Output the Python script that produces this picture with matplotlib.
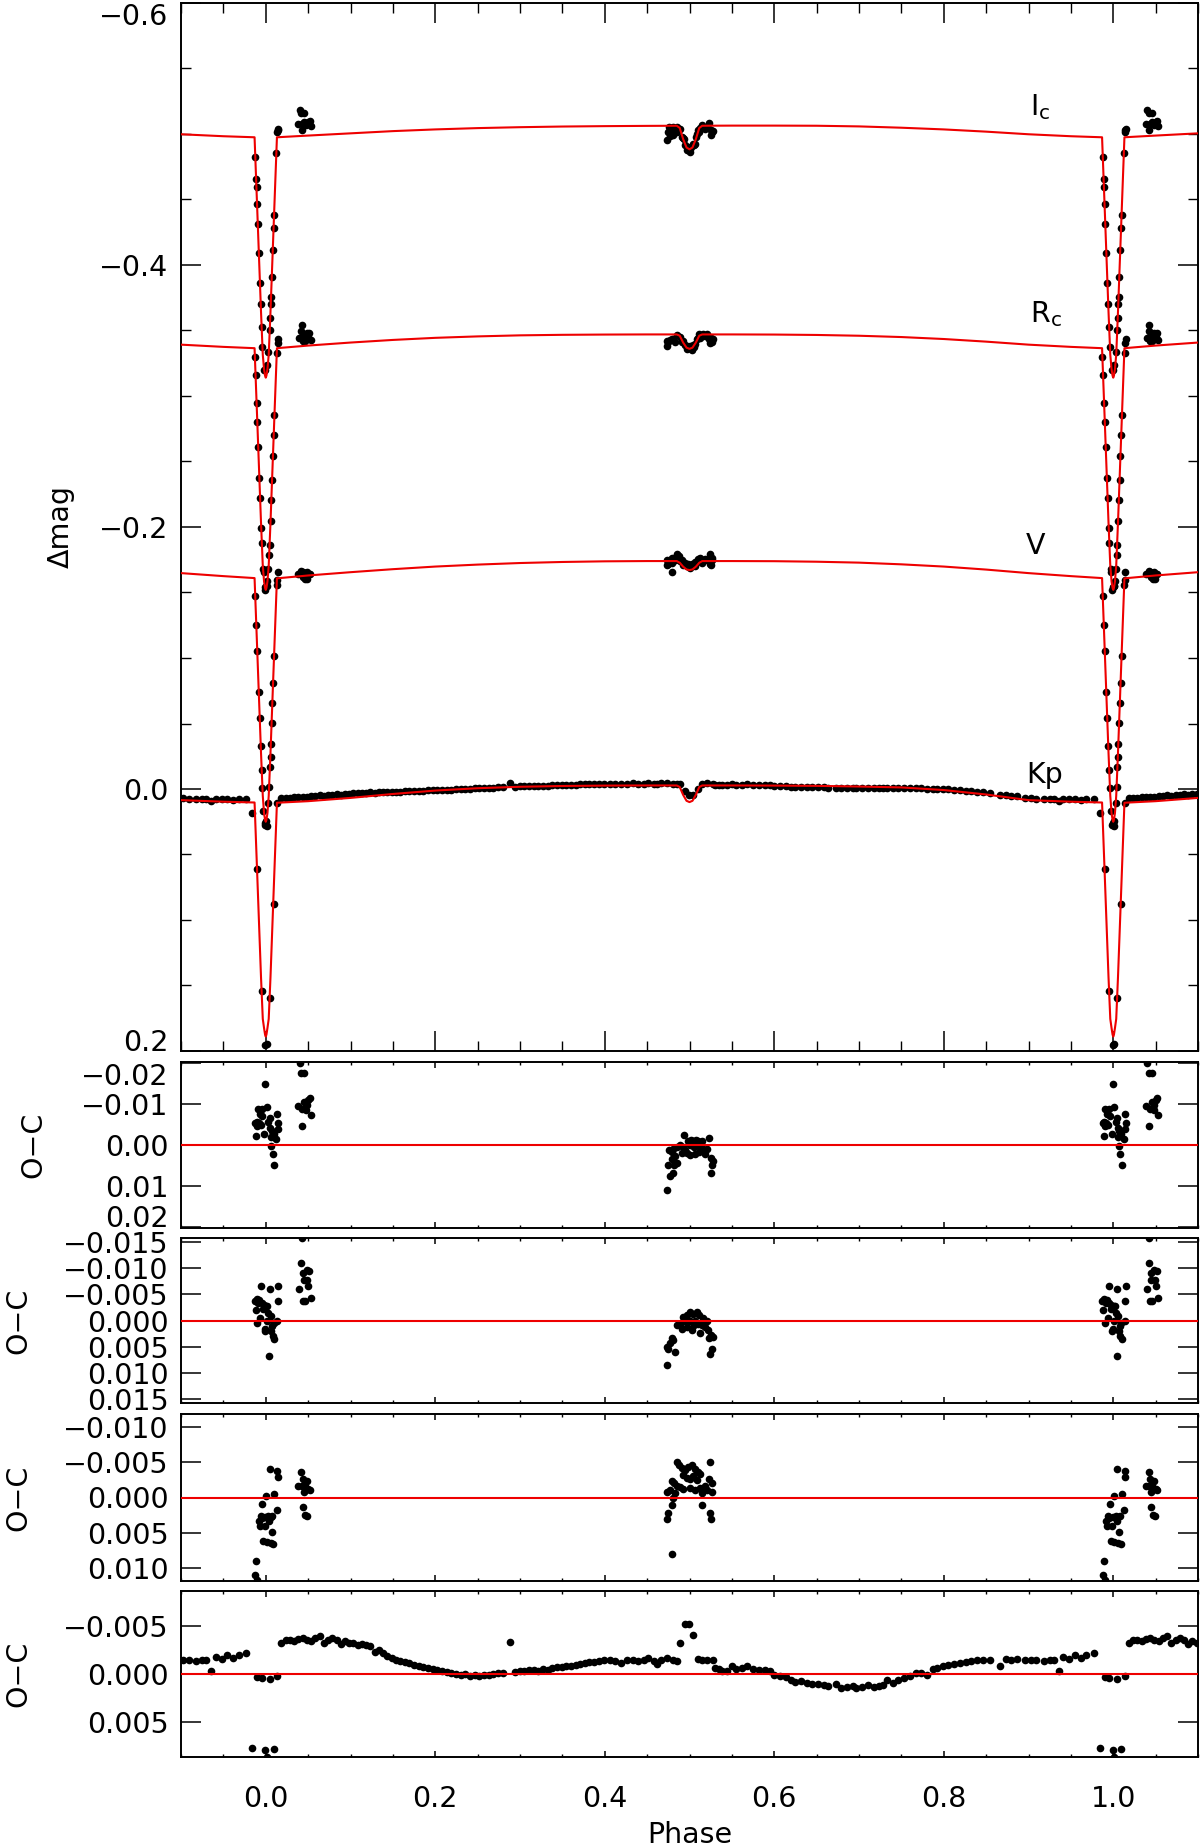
import matplotlib.pyplot as plt
import numpy as np
from matplotlib.ticker import MultipleLocator, FuncFormatter

plt.rcParams['font.family'] = ['DejaVu Sans']
plt.rcParams['font.size'] = 20.5
plt.rcParams['axes.linewidth'] = 1.4

# ---- model light curves (phase 0..1), one magnitude list per band ----
model_phase = [0.0, 0.0008, 0.002, 0.0035, 0.0056, 0.0105, 0.0132, 0.05, 0.1, 0.15,
               0.2, 0.25, 0.3, 0.35, 0.4, 0.45, 0.485, 0.4885, 0.4925, 0.4965,
               0.5, 0.5035, 0.5075, 0.5115, 0.515, 0.55, 0.6, 0.65, 0.7, 0.75,
               0.8, 0.85, 0.9, 0.95, 0.9868, 0.9895, 0.9944, 0.9965, 0.998, 0.9992, 1.0]
ic_model = [-0.314, -0.3155, -0.3205, -0.3315, -0.3645, -0.4505, -0.4975, -0.4988, -0.5005, -0.5022,
            -0.5035, -0.5045, -0.5052, -0.5057, -0.5060, -0.5062, -0.5063, -0.5046, -0.4961, -0.4897,
            -0.4883, -0.4897, -0.4961, -0.5046, -0.5063, -0.5064, -0.5064, -0.5063, -0.5058, -0.5048,
            -0.5035, -0.5018, -0.4998, -0.4983, -0.4975, -0.4505, -0.3645, -0.3315, -0.3205, -0.3155, -0.314]
rc_model = [-0.152, -0.1535, -0.1585, -0.1705, -0.2035, -0.2895, -0.3365, -0.3385, -0.3408, -0.3428,
            -0.3444, -0.3455, -0.3463, -0.3467, -0.3469, -0.3470, -0.3470, -0.3460, -0.3408, -0.3369,
            -0.3360, -0.3369, -0.3408, -0.3460, -0.3470, -0.3470, -0.3469, -0.3466, -0.3460, -0.3450,
            -0.3435, -0.3415, -0.3392, -0.3375, -0.3365, -0.2895, -0.2035, -0.1705, -0.1585, -0.1535, -0.152]
v_model = [0.025, 0.0235, 0.0185, 0.0052, -0.0278, -0.1138, -0.1608, -0.1630, -0.1655, -0.1678,
           -0.1698, -0.1713, -0.1725, -0.1733, -0.1738, -0.1740, -0.1740, -0.1727, -0.1697, -0.1676,
           -0.1671, -0.1676, -0.1697, -0.1727, -0.1740, -0.1740, -0.1739, -0.1735, -0.1728, -0.1715,
           -0.1698, -0.1675, -0.1648, -0.1625, -0.1610, -0.1138, -0.0278, 0.0052, 0.0185, 0.0235, 0.025]
kp_model = [0.189, 0.1875, 0.1825, 0.1755, 0.1435, 0.0575, 0.0105, 0.0093, 0.0068, 0.0038,
            0.0012, -0.0006, -0.0017, -0.0023, -0.0026, -0.0027, -0.0027, -0.0015, 0.0045, 0.0090,
            0.0100, 0.0090, 0.0045, -0.0015, -0.0027, -0.0027, -0.0026, -0.0024, -0.0019, -0.0012,
            0.0008, 0.0042, 0.0085, 0.0097, 0.0103, 0.0575, 0.1435, 0.1755, 0.1825, 0.1875, 0.189]

# ---- Ic observations: phase, magnitude, O-C ----
ic_phase = [0.98765, 0.98863, 0.9893, 0.98971, 0.99058, 0.99186, 0.99314, 0.99407, 0.99514, 0.99611,
            0.9983, 0.9995, 0.0012, 0.0030, 0.0047, 0.00527, 0.0058, 0.00625, 0.00709, 0.00829,
            0.00923, 0.00981, 0.0125, 0.0137, 0.0142, 0.0148,
            0.0384, 0.0400, 0.0420, 0.0452, 0.0428, 0.0475, 0.0502, 0.0522, 0.0483, 0.0530, 0.0424, 0.0456,
            0.4939, 0.4986, 0.5014, 0.5045, 0.5077, 0.5104, 0.5143, 0.5006, 0.5049, 0.5092,
            0.5124, 0.5163, 0.5202, 0.5234, 0.5250, 0.5273, 0.5261, 0.5254, 0.4762, 0.4790,
            0.4809, 0.4857, 0.4888, 0.4920, 0.4947, 0.4967, 0.4829, 0.4794, 0.4751, 0.4813,
            0.4849, 0.4801, 0.4770, 0.4731, 0.5010, 0.5065, 0.5183, 0.4908, 0.5108]
ic_mag = [-0.4827, -0.4654, -0.4595, -0.4466, -0.4313, -0.4089, -0.3865, -0.3702, -0.3529, -0.3376,
          -0.3202, -0.3200, -0.3240, -0.3335, -0.3504, -0.3593, -0.3699, -0.3758, -0.3906, -0.4115,
          -0.4280, -0.4382, -0.4852, -0.5018, -0.5030, -0.5035,
          -0.5080, -0.5185, -0.5161, -0.5161, -0.5074, -0.5070, -0.5095, -0.5099, -0.5083, -0.5058, -0.5031, -0.5091,
          -0.4963, -0.4900, -0.4902, -0.4922, -0.4978, -0.5034, -0.5069, -0.4885, -0.4913, -0.4997,
          -0.5044, -0.5052, -0.5052, -0.5081, -0.5032, -0.5024, -0.5013, -0.4995, -0.5050, -0.5046,
          -0.5052, -0.5054, -0.5040, -0.4966, -0.4913, -0.4876, -0.5035, -0.5028, -0.5013, -0.5013,
          -0.5019, -0.4995, -0.4988, -0.4953, -0.4863, -0.4923, -0.5041, -0.4977, -0.5014]
ic_oc = [-0.0053, -0.0022, -0.0057, -0.0046, -0.0089, -0.0054, -0.0077, -0.0049, -0.0089, -0.0071,
         -0.0027, -0.0148, -0.0092, -0.0057, -0.0065, -0.0041, -0.0019, 0.0002, -0.0035, 0.0022,
         -0.0028, 0.0050, -0.0014, -0.0076, -0.0038, -0.0054,
         -0.0095, -0.0200, -0.0176, -0.0176, -0.0089, -0.0085, -0.0110, -0.0114, -0.0098, -0.0073, -0.0046, -0.0106,
         -0.0024, -0.0011, -0.0013, -0.0009, -0.0013, -0.0011, -0.0009, 0.0000, 0.0006, 0.0000,
         0.0006, 0.0011, 0.0011, -0.0018, 0.0031, 0.0039, 0.0050, 0.0068, 0.0013, 0.0017,
         0.0011, 0.0006, 0.0000, 0.0006, 0.0013, 0.0020, 0.0028, 0.0035, 0.0050, 0.0050,
         0.0044, 0.0068, 0.0075, 0.0110, 0.0024, 0.0022, 0.0022, 0.0020, 0.0017]

# ---- Rc observations ----
rc_phase = [0.9872, 0.9880, 0.9892, 0.9900, 0.9911, 0.9925, 0.9933, 0.9947, 0.9954, 0.9971,
            0.9975, 0.9991, 0.9992, 0.0003, 0.0011, 0.0015, 0.0030, 0.0040, 0.0045, 0.00567,
            0.00658, 0.00745, 0.0085, 0.00941, 0.0103, 0.0135, 0.0140, 0.0146,
            0.0424, 0.0416, 0.0443, 0.0483, 0.0514, 0.0451, 0.0487, 0.0502, 0.0396, 0.0436, 0.0463, 0.0530,
            0.4920, 0.4967, 0.5006, 0.5045, 0.5085, 0.5116, 0.5163, 0.5202, 0.4947, 0.5010,
            0.5065, 0.5104, 0.5143, 0.4888, 0.4849, 0.4908, 0.4971, 0.5026, 0.5183, 0.5222,
            0.5250, 0.5281, 0.5230, 0.4790, 0.4770, 0.4809, 0.4731, 0.4751, 0.4829, 0.4739,
            0.5261, 0.5242, 0.5124, 0.5049]
rc_mag = [-0.3300, -0.3160, -0.2949, -0.2805, -0.2614, -0.2372, -0.2219, -0.1990, -0.1876, -0.1678,
          -0.1655, -0.1517, -0.1540, -0.1553, -0.1548, -0.1590, -0.1680, -0.1786, -0.1863, -0.2048,
          -0.2206, -0.2359, -0.2542, -0.2702, -0.2855, -0.3326, -0.3402, -0.3433,
          -0.3542, -0.3495, -0.3476, -0.3482, -0.3479, -0.3463, -0.3463, -0.3450, -0.3444, -0.3423, -0.3423, -0.3428,
          -0.3422, -0.3379, -0.3378, -0.3392, -0.3437, -0.3471, -0.3475, -0.3470, -0.3386, -0.3363,
          -0.3398, -0.3440, -0.3460, -0.3450, -0.3462, -0.3413, -0.3355, -0.3349, -0.3458, -0.3452,
          -0.3443, -0.3438, -0.3436, -0.3436, -0.3428, -0.3432, -0.3419, -0.3415, -0.3410, -0.3385,
          -0.3415, -0.3406, -0.3439, -0.3375]
rc_oc = [-0.0037, -0.0020, -0.0040, 0.0004, -0.0034, -0.0039, -0.0005, -0.0065, -0.0034, -0.0021,
         -0.0030, 0.0020, 0.0017, -0.0027, 0.0001, -0.0027, -0.0015, 0.0068, -0.0060, -0.0008,
         0.0020, 0.0011, 0.0030, 0.0004, 0.0036, 0.0001, -0.0037, -0.0065,
         -0.0157, -0.0110, -0.0091, -0.0097, -0.0094, -0.0078, -0.0078, -0.0065, -0.0059, -0.0038, -0.0038, -0.0043,
         -0.0007, -0.0011, -0.0016, -0.0013, -0.0016, -0.0011, -0.0005, 0.0000, 0.0001, 0.0000,
         0.0000, 0.0006, 0.0008, 0.0006, 0.0008, 0.0017, 0.0012, 0.0018, 0.0012, 0.0018,
         0.0027, 0.0032, 0.0034, 0.0034, 0.0042, 0.0038, 0.0051, 0.0055, 0.0060, 0.0085,
         0.0055, 0.0064, 0.0024, 0.0008]

# ---- V observations ----
v_phase = [0.9876, 0.9888, 0.9900, 0.9917, 0.9929, 0.9941, 0.9952, 0.9961, 0.9971, 0.9991,
           0.9995, 0.0003, 0.0011, 0.0028, 0.0039, 0.0049, 0.0058, 0.00598, 0.00687, 0.00775,
           0.00865, 0.00983, 0.0130, 0.0134, 0.0140,
           0.0416, 0.0436, 0.0483, 0.0384, 0.0424, 0.0463, 0.0502, 0.0522, 0.0451, 0.0440, 0.0467, 0.0487,
           0.4849, 0.4880, 0.4908, 0.4947, 0.4986, 0.5026, 0.5065, 0.5104, 0.5124, 0.4920,
           0.4967, 0.5006, 0.5045, 0.5085, 0.4790, 0.4817, 0.4857, 0.4888, 0.4927, 0.5010,
           0.5069, 0.5128, 0.5183, 0.5242, 0.5234, 0.5261, 0.4731, 0.4770, 0.4829, 0.5143,
           0.5202, 0.5265, 0.4809, 0.4794, 0.5147, 0.5246, 0.4751, 0.4739, 0.5257, 0.4790]
v_mag = [-0.1473, -0.1252, -0.1053, -0.0743, -0.0540, -0.0328, -0.0145, -0.0005, 0.0167, 0.0273,
         0.0262, 0.0246, 0.0285, 0.0109, -0.0013, -0.0170, -0.0248, -0.0344, -0.0501, -0.0654,
         -0.0812, -0.1018, -0.1560, -0.1598, -0.1659,
         -0.1665, -0.1655, -0.1653, -0.1645, -0.1647, -0.1646, -0.1644, -0.1643, -0.1638, -0.1616, -0.1605, -0.1603,
         -0.1791, -0.1776, -0.1751, -0.1725, -0.1716, -0.1720, -0.1730, -0.1755, -0.1766, -0.1733,
         -0.1704, -0.1697, -0.1711, -0.1730, -0.1763, -0.1760, -0.1757, -0.1740, -0.1708, -0.1685,
         -0.1700, -0.1747, -0.1757, -0.1791, -0.1766, -0.1760, -0.1748, -0.1750, -0.1747, -0.1746,
         -0.1750, -0.1748, -0.1740, -0.1729, -0.1728, -0.1718, -0.1718, -0.1709, -0.1709, -0.1659]
v_oc = [0.0111, 0.0091, 0.0118, 0.0033, 0.0040, 0.0026, 0.0029, 0.0009, 0.0062, 0.0040,
        0.0028, -0.0002, 0.0063, 0.0026, 0.0033, -0.0041, 0.0065, 0.0028, 0.0049, 0.0027,
        0.0066, -0.0005, 0.0018, -0.0038, -0.0029,
        -0.0037, -0.0027, -0.0023, -0.0017, -0.0017, -0.0016, -0.0012, -0.0010, -0.0008, 0.0014, 0.0025, 0.0027,
        -0.0051, -0.0047, -0.0042, -0.0039, -0.0044, -0.0046, -0.0040, -0.0036, -0.0033, -0.0032,
        -0.0028, -0.0026, -0.0030, -0.0025, -0.0023, -0.0020, -0.0017, -0.0015, -0.0012, -0.0014,
        -0.0010, -0.0014, -0.0017, -0.0051, -0.0026, -0.0020, -0.0008, -0.0010, -0.0007, -0.0007,
        -0.0010, -0.0008, 0.0000, 0.0011, 0.0011, 0.0022, 0.0022, 0.0031, 0.0031, 0.0081]

# ---- Kepler (Kp) observations ----
kp_phase = [0.0011, 0.0046, 0.0092, 0.0137, 0.0185, 0.0235, 0.0285, 0.0335, 0.0385, 0.0435,
            0.0485, 0.0535, 0.0585, 0.0635, 0.0685, 0.0735, 0.0785, 0.0835, 0.0885, 0.0935,
            0.0985, 0.1035, 0.1085, 0.1135, 0.1185, 0.1235, 0.1285, 0.1335, 0.1385, 0.1435,
            0.1485, 0.1535, 0.1585, 0.1640, 0.1695, 0.1750, 0.1805, 0.1860, 0.1915, 0.1970,
            0.2025, 0.2080, 0.2135, 0.2190, 0.2245, 0.2300, 0.2355, 0.2410, 0.2465, 0.2520,
            0.2575, 0.2630, 0.2685, 0.2740, 0.2795, 0.2885, 0.2940, 0.2995, 0.3050, 0.3105,
            0.3160, 0.3215, 0.3270, 0.3325, 0.3380, 0.3435, 0.3490, 0.3545, 0.3600, 0.3655,
            0.3710, 0.3765, 0.3820, 0.3875, 0.3930, 0.3989, 0.4057, 0.4125, 0.4192, 0.4260,
            0.4328, 0.4395, 0.4463, 0.4508, 0.4576, 0.4621, 0.4666, 0.4734, 0.4801, 0.4847,
            0.4893, 0.4948, 0.4992, 0.5036, 0.5095, 0.5153, 0.5208, 0.5275, 0.5298, 0.5343,
            0.5388, 0.5447, 0.5501, 0.5550, 0.5614, 0.5682, 0.5750, 0.5818, 0.5885, 0.5953,
            0.5998, 0.6066, 0.6134, 0.6201, 0.6246, 0.6314, 0.6382, 0.6449, 0.6517, 0.6585,
            0.6630, 0.6734, 0.6788, 0.6856, 0.6924, 0.6969, 0.7036, 0.7104, 0.7172, 0.7240,
            0.7285, 0.7330, 0.7398, 0.7466, 0.7533, 0.7601, 0.7669, 0.7737, 0.7804, 0.7873,
            0.7918, 0.7986, 0.8053, 0.8121, 0.8189, 0.8257, 0.8324, 0.8392, 0.8460, 0.8550,
            0.8663, 0.8730, 0.8798, 0.8866, 0.8956, 0.9024, 0.9092, 0.9182, 0.9250, 0.9295,
            0.9357, 0.9411, 0.9479, 0.9546, 0.9614, 0.9682, 0.9772, 0.9842, 0.9897, 0.9951,
            0.9992]
kp_oc = [0.0086, 0.0005, 0.0078, 0.0002, -0.0032, -0.0035, -0.0035, -0.0034, -0.0036, -0.0037,
         -0.0035, -0.0034, -0.0037, -0.0039, -0.0032, -0.0035, -0.0037, -0.0035, -0.0031, -0.0034,
         -0.0032, -0.0032, -0.0030, -0.0031, -0.0030, -0.0029, -0.0023, -0.0025, -0.0022, -0.0019,
         -0.0017, -0.0015, -0.0013, -0.0012, -0.0011, -0.0009, -0.0008, -0.0007, -0.0006, -0.0005,
         -0.0004, -0.0003, -0.0002, -0.0001, 0.0000, 0.0001, 0.0000, 0.0002, 0.0001, 0.0002,
         0.0001, 0.0001, 0.0000, -0.0001, -0.0001, -0.0033, -0.0002, -0.0003, -0.0003, -0.0004,
         -0.0004, -0.0003, -0.0005, -0.0004, -0.0006, -0.0007, -0.0007, -0.0008, -0.0008, -0.0009,
         -0.0010, -0.0011, -0.0012, -0.0012, -0.0013, -0.0014, -0.0015, -0.0013, -0.0011, -0.0014,
         -0.0015, -0.0013, -0.0014, -0.0017, -0.0013, -0.0010, -0.0015, -0.0017, -0.0014, -0.0013,
         -0.0032, -0.0052, -0.0052, -0.0040, -0.0016, -0.0014, -0.0015, -0.0014, -0.0006, -0.0005,
         -0.0003, -0.0003, -0.0008, -0.0005, -0.0006, -0.0008, -0.0005, -0.0004, -0.0004, -0.0003,
         0.0001, 0.0002, 0.0003, 0.0006, 0.0008, 0.0007, 0.0009, 0.0010, 0.0010, 0.0011,
         0.0012, 0.0010, 0.0015, 0.0013, 0.0012, 0.0015, 0.0013, 0.0011, 0.0013, 0.0012,
         0.0011, 0.0006, 0.0009, 0.0006, 0.0004, 0.0002, -0.0001, -0.0001, 0.0001, -0.0005,
         -0.0006, -0.0008, -0.0009, -0.0010, -0.0011, -0.0012, -0.0013, -0.0014, -0.0014, -0.0015,
         -0.0008, -0.0016, -0.0015, -0.0016, -0.0014, -0.0015, -0.0014, -0.0013, -0.0015, -0.0014,
         -0.0003, -0.0018, -0.0016, -0.0020, -0.0017, -0.0020, -0.0022, 0.0077, 0.0003, 0.0004,
         0.0079]
kp_mag = [0.1949, 0.1592, 0.0881, 0.0107, 0.0071, 0.0067, 0.0065, 0.0064, 0.0061, 0.0058,
          0.0058, 0.0057, 0.0052, 0.0047, 0.0052, 0.0046, 0.0042, 0.0041, 0.0043, 0.0037,
          0.0037, 0.0034, 0.0033, 0.0029, 0.0027, 0.0025, 0.0028, 0.0023, 0.0023, 0.0023,
          0.0022, 0.0021, 0.0021, 0.0019, 0.0017, 0.0016, 0.0014, 0.0012, 0.0010, 0.0009,
          0.0007, 0.0006, 0.0005, 0.0004, 0.0003, 0.0002, -0.0001, -0.0001, -0.0004, -0.0004,
          -0.0007, -0.0008, -0.0010, -0.0012, -0.0013, -0.0047, -0.0018, -0.0020, -0.0021, -0.0022,
          -0.0023, -0.0023, -0.0025, -0.0025, -0.0028, -0.0029, -0.0030, -0.0031, -0.0032, -0.0033,
          -0.0035, -0.0036, -0.0037, -0.0037, -0.0039, -0.0040, -0.0041, -0.0040, -0.0038, -0.0041,
          -0.0042, -0.0040, -0.0041, -0.0044, -0.0040, -0.0037, -0.0042, -0.0044, -0.0041, -0.0040,
          -0.0035, 0.0019, 0.0047, 0.0049, -0.0001, -0.0041, -0.0042, -0.0041, -0.0033, -0.0032,
          -0.0030, -0.0030, -0.0035, -0.0032, -0.0033, -0.0035, -0.0032, -0.0031, -0.0030, -0.0029,
          -0.0025, -0.0024, -0.0022, -0.0019, -0.0017, -0.0018, -0.0016, -0.0014, -0.0014, -0.0012,
          -0.0011, -0.0011, -0.0006, -0.0007, -0.0008, -0.0004, -0.0006, -0.0007, -0.0004, -0.0004,
          -0.0004, -0.0008, -0.0004, -0.0006, -0.0007, -0.0006, -0.0006, -0.0004, 0.0001, -0.0002,
          -0.0001, -0.0001, 0.0003, 0.0006, 0.0010, 0.0013, 0.0017, 0.0021, 0.0025, 0.0031,
          0.0048, 0.0046, 0.0053, 0.0057, 0.0067, 0.0071, 0.0073, 0.0076, 0.0076, 0.0078,
          0.0090, 0.0077, 0.0080, 0.0078, 0.0082, 0.0080, 0.0079, 0.0180, 0.0613, 0.1545,
          0.1954]

band_names = [r'$\mathregular{I_c}$', r'$\mathregular{R_c}$', 'V', 'Kp']
band_label_pos = [(0.902, -0.5145), (0.902, -0.3567), (0.897, -0.1794), (0.897, -0.0046)]

main_ticks = [-0.6, -0.4, -0.2, 0.0, 0.2]
res_limits = [0.0203, 0.0157, 0.0119, 0.0086]
res_ticks = [[-0.02, -0.01, 0.0, 0.01, 0.02],
             [-0.015, -0.010, -0.005, 0.0, 0.005, 0.010, 0.015],
             [-0.010, -0.005, 0.0, 0.005, 0.010],
             [-0.005, 0.0, 0.005]]
res_decimals = [2, 3, 3, 3]
res_label_x = [-0.131, -0.1465, -0.1465, -0.1465]


def wrap(ph, vals, edge=False):
    # repeat points of the first/last tenth of the cycle so the plot runs -0.1..1.1
    ph = np.asarray(ph, dtype=float)
    vals = np.asarray(vals, dtype=float)
    lo = ph >= 0.9 if edge else ph > 0.9
    hi = ph <= 0.1 if edge else ph < 0.1
    return (np.concatenate([ph[lo] - 1, ph, ph[hi] + 1]),
            np.concatenate([vals[lo], vals, vals[hi]]))


def minus_fmt(dec):
    def f(v, pos):
        if abs(v) < 1e-12:
            v = 0.0
        return ('%.*f' % (dec, v)).replace('-', '\u2212')
    return FuncFormatter(f)


fig = plt.figure(figsize=(12, 18.48), dpi=100)
L, W = 181 / 1200, 1017 / 1200


def px_axes(top, bottom):
    return fig.add_axes([L, 1 - bottom / 1848, W, (bottom - top) / 1848])


ax = px_axes(3, 1051)
res_axes = [px_axes(1062, 1228), px_axes(1238, 1403), px_axes(1414, 1581), px_axes(1591, 1757)]

# main panel
obs = [(ic_phase, ic_mag), (rc_phase, rc_mag), (v_phase, v_mag), (kp_phase, kp_mag)]
models = [ic_model, rc_model, v_model, kp_model]
for (ph, mag), mod in zip(obs, models):
    x, y = wrap(ph, mag)
    ax.plot(x, y, 'o', color='black', ms=5.5, mew=0, zorder=2)
    mx, my = wrap(model_phase, mod, edge=True)
    ax.plot(mx, my, '-', color='#ee0000', lw=1.5, zorder=3)

for name, (tx, ty) in zip(band_names, band_label_pos):
    ax.text(tx, ty, name, ha='left', va='baseline', fontsize=20.5)

ax.set_xlim(-0.1, 1.1)
ax.set_ylim(0.2, -0.6)
ax.set_yticks(main_ticks)
ax.yaxis.set_minor_locator(MultipleLocator(0.05))
ax.yaxis.set_major_formatter(minus_fmt(1))
ax.set_ylabel('\u0394mag')
ax.yaxis.set_label_coords(-0.104, 0.5)

# residual panels
ocs = [(ic_phase, ic_oc), (rc_phase, rc_oc), (v_phase, v_oc), (kp_phase, kp_oc)]
for i, (rax, (ph, oc)) in enumerate(zip(res_axes, ocs)):
    x, y = wrap(ph, oc)
    rax.plot(x, y, 'o', color='black', ms=5.5, mew=0, zorder=2)
    rax.axhline(0.0, color='#ee0000', lw=1.5, zorder=3)
    rax.set_xlim(-0.1, 1.1)
    lim = res_limits[i]
    rax.set_ylim(lim, -lim)
    rax.set_yticks(res_ticks[i])
    rax.yaxis.set_major_formatter(minus_fmt(res_decimals[i]))
    rax.set_ylabel('O\u2212C')
    rax.yaxis.set_label_coords(res_label_x[i], 0.5)
    rax.tick_params(axis='x', which='major', length=4.5, width=1.1, direction='in',
                    top=True, bottom=True, labelbottom=(i == 3), pad=20)
    rax.tick_params(axis='x', which='minor', length=2.2, width=1.0, direction='in',
                    top=True, bottom=True)
    rax.tick_params(axis='y', which='major', length=14.5, width=1.1, direction='in',
                    left=True, right=True, pad=9)

for a in [ax] + res_axes:
    a.xaxis.set_major_locator(MultipleLocator(0.2))
    a.xaxis.set_minor_locator(MultipleLocator(0.05))
    a.xaxis.set_major_formatter(minus_fmt(1))

ax.tick_params(which='major', length=14.5, width=1.1, direction='in',
               top=True, bottom=True, left=True, right=True, labelbottom=False, pad=9)
ax.tick_params(which='minor', length=7.2, width=1.0, direction='in',
               top=True, bottom=True, left=True, right=True)

# keep the labels of the edge ticks inside their panel
for a in [ax, res_axes[0]]:
    yt = a.yaxis.get_major_ticks()
    yt[0].label1.set_va('top')
    yt[-1].label1.set_va('baseline')

res_axes[3].set_xlabel('Phase')
res_axes[3].xaxis.set_label_coords(0.5, -0.385)

fig.savefig('out.png', dpi=100)
